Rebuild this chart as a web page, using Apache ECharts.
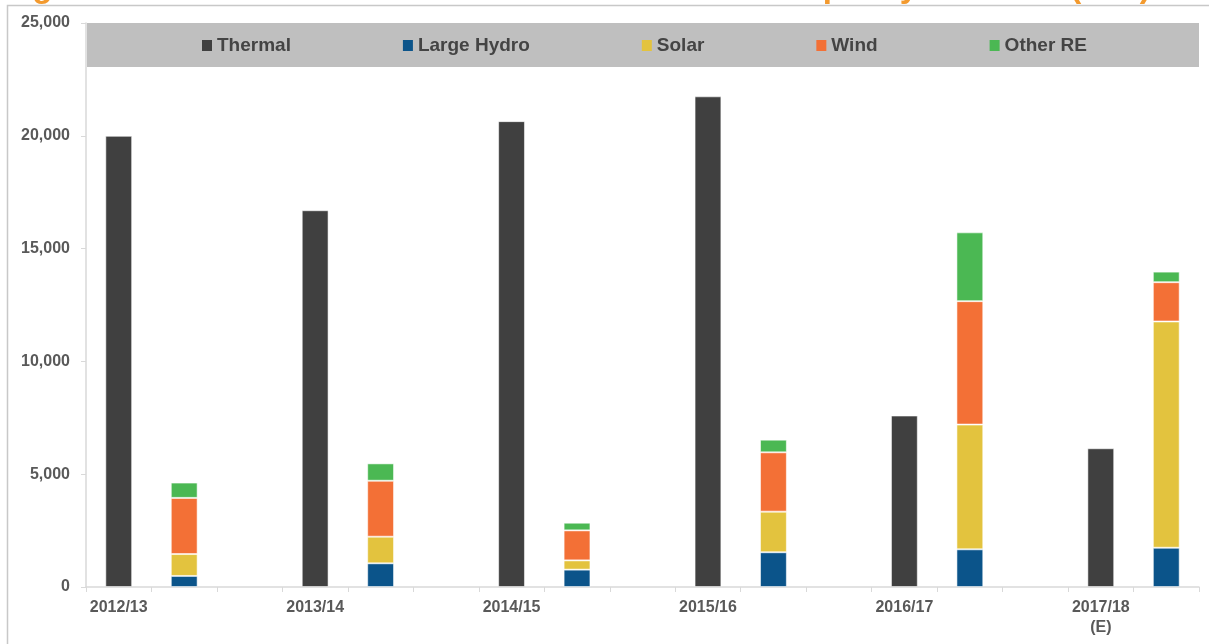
<!DOCTYPE html>
<html>
<head>
<meta charset="utf-8">
<script src="https://cdn.jsdelivr.net/npm/echarts@6/dist/echarts.min.js"></script>
<style>html,body{margin:0;padding:0;background:#fff;}#c{width:1209px;height:644px;}</style>
</head>
<body>
<div id="c"></div>
<script>
// ---- data (MW) ----
const years = ['2012/13', '2013/14', '2014/15', '2015/16', '2016/17', '2017/18\n(E)'];
const thermal    = [20000, 16700, 20650, 21750, 7600, 6150];
const largeHydro = [490, 1050, 770, 1540, 1670, 1740];
const solar      = [970, 1180, 410, 1800, 5530, 10030];
const wind       = [2490, 2480, 1330, 2630, 5470, 1740];
const otherRE    = [680, 770, 340, 560, 3050, 470];
const yTicks = [0, 5000, 10000, 15000, 20000, 25000];
const titleText = 'Figure 1: Annual Thermal vs Renewable Installed Capacity Addition (MW)';

// each year = thermal slot, RE slot, gap slot (no gap after last year)
const cats = [];
years.forEach((y, i) => { cats.push(y); cats.push(''); if (i < years.length - 1) cats.push(''); });
function slot(values, offset) {
  const arr = cats.map(() => '-');
  values.forEach((v, i) => { arr[i * 3 + offset] = v; });
  return arr;
}

const chart = echarts.init(document.getElementById('c'), null, {renderer: 'canvas'});
const border = {borderColor: 'rgba(255,255,255,0.55)', borderWidth: 1};
function bar(name, values, offset, color) {
  return {
    name: name, type: 'bar', stack: 'all', data: slot(values, offset),
    barWidth: '41%', itemStyle: Object.assign({color: color}, border)
  };
}
chart.setOption({
  animation: false,
  textStyle: {fontFamily: 'Liberation Sans, Arial, sans-serif'},
  graphic: [
    {type: 'rect', z: -10, shape: {x: 7.5, y: 5.5, width: 1400, height: 800},
     style: {fill: 'none', stroke: '#c8c8c8', lineWidth: 1.5}},
    {type: 'rect', z: -5, shape: {x: 87, y: 23, width: 1112, height: 44},
     style: {fill: '#bfbfbf'}},
    {type: 'text', z: 10, style: {text: titleText, x: 3, y: 4, fill: '#f39a2e',
      font: 'bold 33px "Liberation Sans", Arial, sans-serif', textVerticalAlign: 'bottom'}}
  ],
  grid: {left: 86, right: 10, top: 23, bottom: 57, containLabel: false},
  legend: {
    left: 197, top: 31, itemWidth: 10, itemHeight: 11, itemGap: 112,
    icon: 'rect',
    itemStyle: {borderWidth: 0},
    textStyle: {fontSize: 19, fontWeight: 'bold', color: '#444444', fontFamily: 'Liberation Sans, Arial, sans-serif'},
    data: ['Thermal', 'Large Hydro', 'Solar', 'Wind', 'Other RE']
  },
  xAxis: {
    type: 'category', data: cats, boundaryGap: true,
    axisLine: {lineStyle: {color: '#d9d9d9', width: 1.5}},
    axisTick: {show: true, interval: 0, length: 5, lineStyle: {color: '#d9d9d9'}},
    axisLabel: {interval: 0, margin: 11, fontSize: 16, fontWeight: 'bold', color: '#595959', lineHeight: 20,
      fontFamily: 'Liberation Sans, Arial, sans-serif'}
  },
  yAxis: {
    type: 'value', min: yTicks[0], max: yTicks[yTicks.length - 1], interval: yTicks[1] - yTicks[0],
    axisLine: {show: true, lineStyle: {color: '#d9d9d9', width: 1.5}},
    axisTick: {show: true, length: 5, lineStyle: {color: '#d9d9d9'}},
    splitLine: {show: false},
    axisLabel: {margin: 16, fontSize: 16, fontWeight: 'bold', color: '#595959',
      fontFamily: 'Liberation Sans, Arial, sans-serif',
      formatter: v => v.toLocaleString('en-US')}
  },
  series: [
    bar('Thermal', thermal, 0, '#404040'),
    bar('Large Hydro', largeHydro, 1, '#0b548a'),
    bar('Solar', solar, 1, '#e3c33e'),
    bar('Wind', wind, 1, '#f37036'),
    bar('Other RE', otherRE, 1, '#4bb853')
  ]
});
</script>
</body>
</html>
